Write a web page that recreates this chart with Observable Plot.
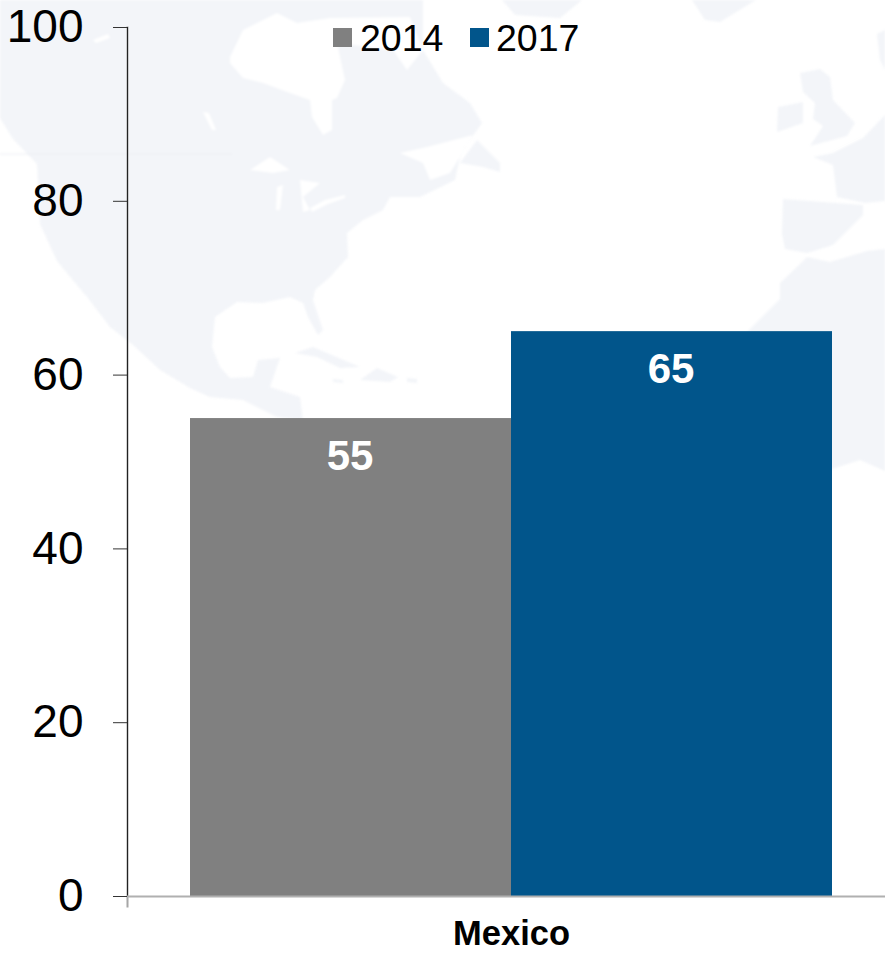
<!DOCTYPE html>
<html>
<head>
<meta charset="utf-8">
<script src="https://cdn.jsdelivr.net/npm/d3@7"></script>
<script src="https://cdn.jsdelivr.net/npm/@observablehq/plot@0.6"></script>
<style>
  html, body { margin: 0; padding: 0; background: #fff; overflow: hidden; }
  #wrap { position: relative; width: 885px; height: 953px; font-family: "Liberation Sans", Arial, sans-serif; }
  #map { position: absolute; left: 0; top: 0; filter: blur(1.2px); }
  #chart { position: absolute; left: 0; top: 0; }
  #chart svg { background: transparent; display: block; }
  .key { position: absolute; top: 18px; font-size: 37.5px; line-height: 40px; color: #000; }
  .swatch { position: absolute; top: 28px; width: 19px; height: 19px; }
</style>
</head>
<body>
<div id="wrap">
  <svg id="map" width="885" height="953"></svg>
  <div id="chart"></div>
</div>
<script>
const countries = ["Mexico"];
const years = ["2014", "2017"];
const values = [55, 65];
const yTicks = [0, 20, 40, 60, 80, 100];
const yearColors = ["#808080", "#01558b"];

const rows = years.map((year, i) => ({country: countries[0], year, value: values[i]}));

// Faint decorative world-map backdrop (page-pixel outlines, not chart data)
const landShapes = [
  "0,0 423,0 423,18 423,50 443,83 470,103 482,123 470,140 460,157 455,180 420,197 390,197 383,210 363,220 347,233 348,257 330,277 315,290 313,300 323,330 318,335 308,317 303,303 290,297 263,303 237,302 215,317 212,347 220,367 230,378 253,377 258,360 280,358 270,387 300,397 303,420 277,417 243,400 210,397 190,388 160,370 133,345 110,327 87,297 57,261 40,224 37,164 13,139 0,118",
  "460,163 477,140 500,163 500,172 483,167",
  "502,0 515,15 560,18 582,0",
  "692,0 705,20 720,22 756,0",
  "800,73 820,69 830,77 833,100 855,123 847,136 810,146 823,126 813,119 815,103 803,92",
  "778,107 803,102 803,123 777,132",
  "813,157 833,165 837,197 865,203 885,201 885,115 863,138 833,153",
  "783,199 863,205 863,215 833,245 807,253 785,249 782,234",
  "877,34 885,30 885,70 880,60",
  "807,257 830,262 867,251 885,249 885,471 860,460 832,469 700,469 700,400 748,331 780,299 780,283 800,264",
  "295,353 313,347 360,367 340,368 317,357",
  "360,380 377,368 398,377 390,382",
  "333,379 343,380 343,383 333,382",
  "407,378 417,379 417,383 407,382"
];
const waterShapes = [
  "230,57 243,30 277,13 297,23 330,18 410,17 423,50 407,70 393,50 337,43 345,80 337,98 332,100 332,130 323,135 312,117 310,100 290,93 263,83 243,78 230,63",
  "400,153 427,147 473,135 460,157 450,173 430,180 423,163",
  "250,170 270,157 290,170 273,173",
  "277,187 283,185 280,210 276,210",
  "300,180 320,183 303,197 310,210 303,212",
  "310,208 325,200 345,195 345,198 328,204 312,212",
  "93,40 108,34 110,38 96,43",
  "203,112 209,113 216,130 212,130"
];
const mapSvg = d3.select("#map");
mapSvg.selectAll("polygon.land").data(landShapes).join("polygon").attr("class", "land").attr("points", d => d).attr("fill", "#f3f5f9");
mapSvg.selectAll("polygon.water").data(waterShapes).join("polygon").attr("class", "water").attr("points", d => d).attr("fill", "#ffffff");
mapSvg.append("line").attr("x1", 0).attr("x2", 232).attr("y1", 154).attr("y2", 154).attr("stroke", "#eceef3").attr("stroke-width", 1);

const plot = Plot.plot({
  width: 885,
  height: 953,
  marginLeft: 127,
  marginRight: 0,
  marginTop: 27,
  marginBottom: 57,
  style: {background: "transparent", fontFamily: "'Liberation Sans', Arial, sans-serif", overflow: "hidden"},
  fx: {domain: countries, range: [127, 895], padding: 0, label: null},
  x: {domain: years, paddingInner: 0, paddingOuter: 0.196, axis: null},
  y: {domain: [0, 100], label: null},
  color: {domain: years, range: yearColors},
  marks: [
    Plot.barY(rows, {fx: "country", x: "year", y: "value", fill: "year"}),
    Plot.text(rows, {
      fx: "country", x: "year", y: "value", text: d => String(d.value),
      dy: 38, dx: -1, fill: "#fff", fontSize: 42, fontWeight: "bold", textAnchor: "middle", lineAnchor: "middle"
    }),
    Plot.frame({anchor: "left", stroke: "#a6a6a6", strokeWidth: 2, insetBottom: -10}),
    Plot.frame({anchor: "left", stroke: "#222", strokeWidth: 1}),
    Plot.ruleY([0], {stroke: "#b0b0b0", strokeWidth: 2}),
    Plot.axisY({ticks: yTicks, tickSize: 14, tickPadding: 30, fontSize: 46, stroke: "#333", fill: "#000", label: null, tickFormat: d => String(d)}),
    Plot.axisFx({anchor: "bottom", tickSize: 0, tickPadding: 24, fontSize: 34.5, fontWeight: "bold", fill: "#000", label: null})
  ]
});
document.getElementById("chart").append(plot);

// Legend
const wrap = d3.select("#wrap");
const legendX = [[333, 360], [470, 496]];
years.forEach((y, i) => {
  wrap.append("div").attr("class", "swatch").style("left", legendX[i][0] + "px").style("background", yearColors[i]);
  wrap.append("div").attr("class", "key").style("left", legendX[i][1] + "px").text(y);
});
</script>
</body>
</html>
